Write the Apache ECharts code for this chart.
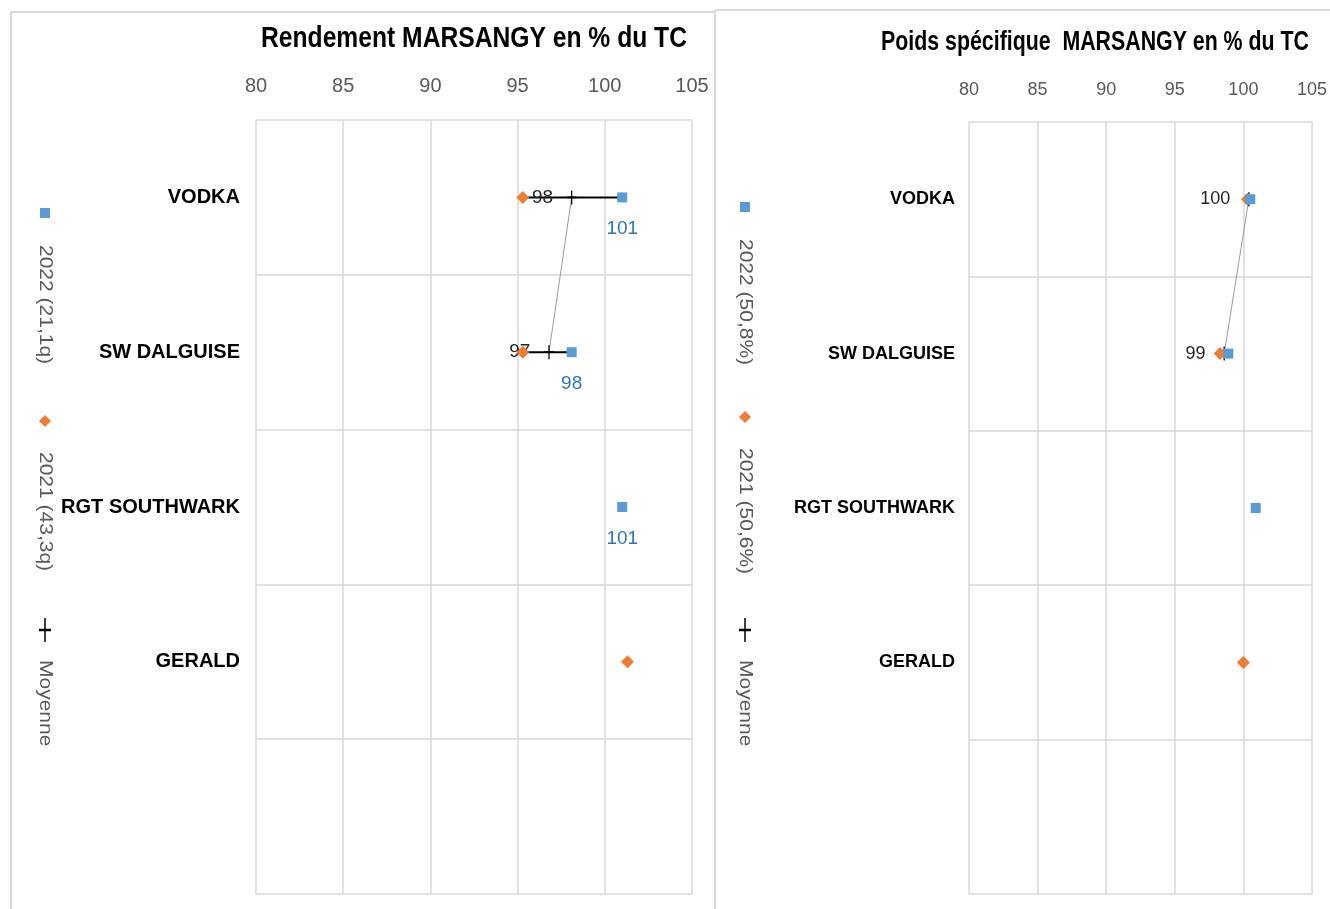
<!DOCTYPE html>
<html>
<head>
<meta charset="utf-8">
<script src="https://cdn.jsdelivr.net/npm/echarts@6/dist/echarts.min.js"></script>
<style>
    html, body { margin: 0; padding: 0; background: #fff; }
    #chart { width: 1330px; height: 909px; }
</style>
</head>
<body>
<div id="chart"></div>
<script>
    // categories (last row is empty)
    var categories = ['VODKA', 'SW DALGUISE', 'RGT SOUTHWARK', 'GERALD', ''];
    var xTicks = [80, 85, 90, 95, 100, 105];

    // Rendement en % du TC
    var rendement2022 = [101.0, 98.1, 101.0, null, null];
    var rendement2021 = [95.3, 95.3, null, 101.3, null];
    var rendementMoy = [98.1, 96.8, null, null, null];

    // Poids spécifique en % du TC
    var poids2022 = [100.5, 98.9, 100.9, null, null];
    var poids2021 = [100.3, 98.3, null, 100.0, null];
    var poidsMoy = [100.4, 98.6, null, null, null];

    var blue = '#5B9BD5', orange = '#ED7D31', grid = '#d9d9d9';
    var font = '"Liberation Sans", Arial, sans-serif';

    function pts(arr) {
        var out = [];
        arr.forEach(function (v, i) { if (v != null) out.push([v, i]); });
        return out;
    }
    function bars(a, b) {
        var out = [];
        a.forEach(function (v, i) {
            if (v != null && b[i] != null) out.push([Math.min(v, b[i]), Math.max(v, b[i]), i]);
        });
        return out;
    }

    function axes(idx) {
        var x = {
            type: 'value', gridIndex: idx, position: 'top',
            min: xTicks[0], max: xTicks[xTicks.length - 1], interval: 5,
            axisLine: {show: false}, axisTick: {show: false},
            axisLabel: {color: '#595959', fontFamily: font, fontSize: idx ? 18 : 20, margin: idx ? 23 : 24},
            splitLine: {lineStyle: {color: grid, width: 1.5}}
        };
        var y = {
            type: 'category', gridIndex: idx, data: categories, inverse: true,
            axisLine: {show: false}, axisTick: {show: false},
            axisLabel: {color: '#000', fontWeight: 'bold', fontFamily: font, fontSize: idx ? 18 : 20, margin: idx ? 14 : 16},
            splitLine: {show: true, lineStyle: {color: grid, width: 1.5}}
        };
        return [x, y];
    }

    function seriesFor(idx, v22, v21, moy, blueLabels) {
        var fs = idx ? 18 : 19;
        return [
            {
                type: 'custom', xAxisIndex: idx, yAxisIndex: idx, z: 2,
                data: bars(v22, v21),
                encode: {x: [0, 1], y: 2},
                renderItem: function (params, api) {
                    var a = api.coord([api.value(0), api.value(2)]);
                    var b = api.coord([api.value(1), api.value(2)]);
                    return {type: 'line', shape: {x1: a[0], y1: a[1], x2: b[0], y2: b[1]},
                        style: {stroke: '#000', lineWidth: 2}};
                }
            },
            {
                type: 'line', xAxisIndex: idx, yAxisIndex: idx, z: 3,
                data: pts(moy),
                lineStyle: {color: '#9a9a9a', width: 1},
                symbol: 'path://M5,0 L5,14 M0,7 L10,7', symbolSize: [10, 14],
                itemStyle: {color: '#000', borderColor: '#000', borderWidth: 1.5},
                label: {show: true, position: 'left', distance: 13, color: '#262626',
                    fontFamily: font, fontSize: fs,
                    formatter: function (p) { return Math.round(p.value[0]); }}
            },
            {
                type: 'scatter', xAxisIndex: idx, yAxisIndex: idx, z: 4,
                data: pts(v21), symbol: 'diamond', symbolSize: 13,
                itemStyle: {color: orange, opacity: 1}
            },
            {
                type: 'scatter', xAxisIndex: idx, yAxisIndex: idx, z: 4,
                data: pts(v22), symbol: 'rect', symbolSize: 10,
                itemStyle: {color: blue, opacity: 1},
                label: {show: blueLabels, position: 'bottom', distance: 17, color: '#2E75B6',
                    fontFamily: font, fontSize: fs,
                    formatter: function (p) { return Math.round(p.value[0]); }}
            }
        ];
    }

    function legend(x, yS, yD, yP, t22, t21) {
        var txt = {fill: '#595959', font: '21px ' + font,
            textAlign: 'left', textVerticalAlign: 'middle'};
        return [
            {type: 'rect', shape: {x: x - 5, y: yS - 5, width: 10, height: 10}, style: {fill: blue}},
            {type: 'text', x: x, y: yS + 32, rotation: -Math.PI / 2, scaleY: 0.85, style: Object.assign({text: t22}, txt)},
            {type: 'polygon', shape: {points: [[x, yD - 6], [x + 6, yD], [x, yD + 6], [x - 6, yD]]}, style: {fill: orange}},
            {type: 'text', x: x, y: yD + 31, rotation: -Math.PI / 2, scaleY: 0.85, style: Object.assign({text: t21}, txt)},
            {type: 'line', shape: {x1: x, y1: yP - 12, x2: x, y2: yP + 12}, style: {stroke: '#000', lineWidth: 1.5}},
            {type: 'line', shape: {x1: x - 6, y1: yP, x2: x + 6, y2: yP}, style: {stroke: '#000', lineWidth: 2.5}},
            {type: 'text', x: x, y: yP + 30, rotation: -Math.PI / 2, scaleY: 0.85, style: Object.assign({text: 'Moyenne'}, txt)}
        ];
    }

    var chart = echarts.init(document.getElementById('chart'));
    var a0 = axes(0), a1 = axes(1);
    var option = {
        animation: false,
        grid: [
            {left: 256, right: 638, top: 120, bottom: 15},
            {left: 969, right: 17, top: 122, bottom: 15}
        ],
        xAxis: [a0[0], a1[0]],
        yAxis: [a0[1], a1[1]],
        series: seriesFor(0, rendement2022, rendement2021, rendementMoy, true)
            .concat(seriesFor(1, poids2022, poids2021, poidsMoy, false)),
        graphic: [
            {type: 'line', shape: {x1: 11, y1: 12, x2: 715, y2: 12}, style: {stroke: grid, lineWidth: 2}},
            {type: 'line', shape: {x1: 11, y1: 12, x2: 11, y2: 909}, style: {stroke: grid, lineWidth: 2}},
            {type: 'line', shape: {x1: 715, y1: 10, x2: 715, y2: 909}, style: {stroke: grid, lineWidth: 2}},
            {type: 'line', shape: {x1: 715, y1: 10, x2: 1330, y2: 10}, style: {stroke: grid, lineWidth: 2}},
            {type: 'text', x: 474, y: 39, scaleX: 0.85, style: {text: 'Rendement MARSANGY en % du TC', fill: '#000',
                font: 'bold 29px ' + font, textAlign: 'center', textVerticalAlign: 'middle'}},
            {type: 'text', x: 1095, y: 43, scaleX: 0.79, style: {text: 'Poids spécifique  MARSANGY en % du TC', fill: '#000',
                font: 'bold 27px ' + font, textAlign: 'center', textVerticalAlign: 'middle'}}
        ].concat(legend(45, 213, 421, 630, '2022 (21,1q)', '2021 (43,3q)'))
         .concat(legend(745, 207, 417, 630, '2022 (50,8%)', '2021 (50,6%)'))
    };
    chart.setOption(option);
</script>
</body>
</html>
